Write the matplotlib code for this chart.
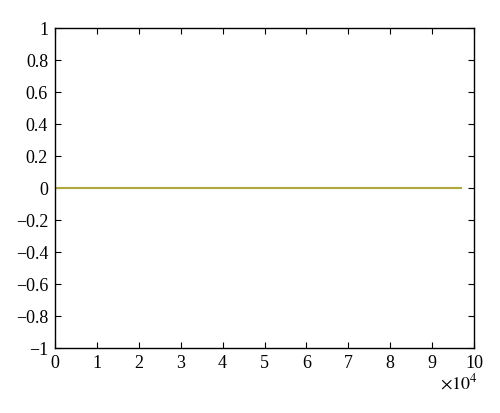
import matplotlib
matplotlib.use("Agg")
import matplotlib.pyplot as plt

# Data: a flat response at zero
x_vals = [0, 97000]
y_vals = [0, 0]
x_ticks = list(range(0, 11))
y_ticks = [-1, -0.8, -0.6, -0.4, -0.2, 0, 0.2, 0.4, 0.6, 0.8, 1]

plt.rcParams["font.family"] = ["Liberation Serif", "DejaVu Serif"]
plt.rcParams["mathtext.fontset"] = "stix"

fig = plt.figure(figsize=(5, 4.13), dpi=100)
ax = fig.add_axes([0.11, 0.157, 0.838, 0.775])

ax.plot(x_vals, y_vals, color="#b0a83c", linewidth=1.5)

ax.set_xlim(0, 100000)
ax.set_ylim(-1, 1)
ax.set_xticks([t * 1e4 for t in x_ticks])
ax.set_xticklabels([str(t) for t in x_ticks])
ax.set_yticks(y_ticks)
ax.set_yticklabels(["\u22121" if v == -1 else ("1" if v == 1 else ("0" if v == 0 else
                    ("\u2212" if v < 0 else "") + f"{abs(v):g}")) for v in y_ticks])
ax.tick_params(direction="in", top=True, right=True, labelsize=13, length=4, width=0.8, pad=5)
for s in ax.spines.values():
    s.set_linewidth(1.0)

fig.text(0.955, 0.073, r"$\times10^{4}$", ha="right", va="center", fontsize=13)

fig.savefig("out.png", dpi=100)
